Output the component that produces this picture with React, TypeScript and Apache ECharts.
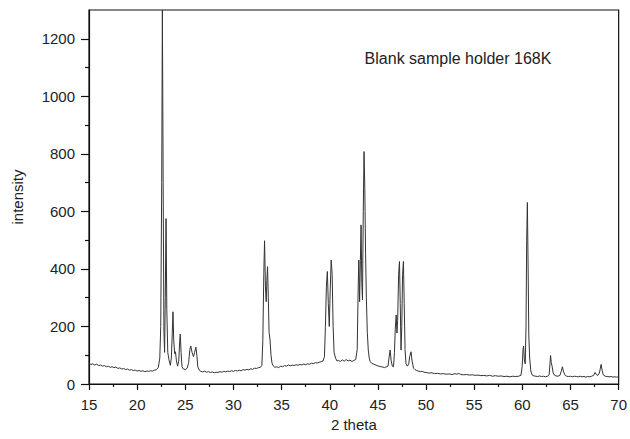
import React, { useEffect, useRef } from "react";
import * as echarts from "echarts";

const twoTheta: number[] = [
  15.0, 15.2, 15.4, 15.6, 15.8, 16.0, 16.2, 16.4, 16.6, 16.8, 17.0, 17.2, 17.4, 17.6, 17.8, 18.0, 18.2, 18.4, 18.6, 18.8,
  19.0, 19.2, 19.4, 19.6, 19.8, 20.0, 20.2, 20.4, 20.6, 20.8, 21.0, 21.2, 21.4, 21.6, 21.8, 22.0, 22.2, 22.35, 22.45, 22.55,
  22.62, 22.7, 22.78, 22.85, 22.92, 23.0, 23.08, 23.18, 23.3, 23.45, 23.55, 23.65, 23.72, 23.8, 23.9, 23.98, 24.08, 24.2, 24.32, 24.42,
  24.48, 24.56, 24.66, 24.8, 25.0, 25.2, 25.35, 25.47, 25.57, 25.7, 25.85, 25.97, 26.1, 26.2, 26.3, 26.45, 26.6,
  26.8, 27.0, 27.2, 27.4, 27.6, 27.8, 28.0, 28.2, 28.4, 28.6, 28.8, 29.0, 29.2, 29.4, 29.6, 29.8, 30.0, 30.2, 30.4, 30.6,
  30.8, 31.0, 31.2, 31.4, 31.6, 31.8, 32.0, 32.2, 32.4, 32.6, 32.8, 32.95, 33.05, 33.15, 33.23, 33.32, 33.4, 33.47, 33.54, 33.62,
  33.7, 33.8, 33.9, 34.0, 34.15, 34.3, 34.5, 34.7, 34.9, 35.1, 35.3, 35.5, 35.7, 35.9, 36.1, 36.3, 36.5, 36.7, 36.9, 37.1,
  37.3, 37.5, 37.7, 37.9, 38.1, 38.3, 38.5, 38.7, 38.9, 39.1, 39.3, 39.45, 39.55, 39.65, 39.75, 39.85, 39.95, 40.05, 40.15, 40.25,
  40.35, 40.45, 40.6, 40.75, 40.9, 41.1, 41.3, 41.5, 41.7, 41.9, 42.1, 42.3, 42.5, 42.7, 42.85, 42.95, 43.02, 43.1, 43.18, 43.25,
  43.33, 43.4, 43.48, 43.56, 43.64, 43.72, 43.8, 43.9, 44.0, 44.1, 44.2, 44.35, 44.5, 44.7, 44.9, 45.1, 45.3, 45.5, 45.7, 45.9,
  46.05, 46.15, 46.27, 46.38, 46.5, 46.62, 46.72, 46.8, 46.9, 46.98, 47.05, 47.15, 47.24, 47.32, 47.4, 47.48, 47.56, 47.65, 47.73, 47.82,
  47.92, 48.05, 48.2, 48.3, 48.44, 48.55, 48.7, 48.85, 49.0, 49.2, 49.4, 49.6, 49.8, 50.0, 50.3, 50.6, 50.9, 51.2, 51.5, 51.8,
  52.1, 52.4, 52.7, 53.0, 53.2, 53.4, 53.6, 53.9, 54.2, 54.5, 54.8, 55.1, 55.4, 55.7, 56.0, 56.3, 56.6, 56.9, 57.2, 57.5,
  57.8, 58.1, 58.4, 58.7, 59.0, 59.3, 59.6, 59.85, 59.98, 60.07, 60.13, 60.22, 60.3, 60.38, 60.45, 60.52, 60.6, 60.67, 60.76, 60.88,
  61.0, 61.2, 61.4, 61.6, 61.8, 62.0, 62.2, 62.4, 62.6, 62.78, 62.87, 62.93, 63.0, 63.1, 63.2, 63.35, 63.5, 63.7, 63.9, 64.05,
  64.16, 64.28, 64.45, 64.6, 64.8, 65.0, 65.2, 65.4, 65.6, 65.8, 66.0, 66.2, 66.4, 66.6, 66.8, 67.0, 67.2, 67.4, 67.55, 67.7,
  67.85, 68.0, 68.1, 68.18, 68.28, 68.4, 68.6, 68.8, 69.0, 69.2, 69.4, 69.6, 69.8, 70.0,
];

const intensity: number[] = [
  72, 68, 70, 66, 69, 64, 66, 62, 64, 60, 62, 58, 60, 57, 59, 54, 56, 52, 54, 50,
  52, 48, 50, 47, 48, 45, 47, 44, 46, 43, 45, 44, 46, 45, 48, 50, 58, 90, 200, 700,
  1300, 700, 180, 110, 300, 575, 260, 110, 85, 65, 90, 180, 251, 150, 105, 112, 80, 62, 80, 150,
  174, 110, 60, 52, 50, 55, 75, 120, 132, 110, 95, 110, 128, 100, 60, 48, 44,
  42, 45, 41, 43, 40, 42, 39, 41, 40, 43, 41, 44, 42, 45, 43, 46, 44, 47, 45, 48,
  46, 50, 48, 51, 49, 53, 51, 55, 54, 57, 58, 65, 150, 380, 498, 340, 286, 360, 408, 300,
  180, 153, 100, 73, 62, 58, 60, 57, 62, 60, 64, 62, 66, 63, 66, 64, 67, 65, 68, 66,
  69, 67, 70, 69, 72, 71, 74, 73, 76, 77, 80, 95, 200, 340, 391, 280, 200, 330, 431, 380,
  200, 110, 90, 80, 82, 78, 84, 79, 85, 80, 83, 78, 82, 85, 120, 330, 431, 286, 430, 553,
  350, 292, 600, 808, 680, 455, 300, 180, 118, 90, 78, 72, 70, 67, 64, 62, 60, 59, 57, 60,
  62, 90, 118, 80, 62, 60, 110, 190, 240, 177, 220, 380, 426, 280, 118, 200, 380, 426, 280, 120,
  70, 62, 70, 95, 112, 80, 55, 50, 47, 45, 43, 44, 41, 40, 38, 39, 36, 37, 35, 36,
  34, 35, 33, 36, 34, 37, 33, 32, 33, 31, 32, 30, 31, 29, 30, 28, 30, 27, 29, 27,
  28, 26, 27, 25, 27, 26, 27, 30, 60, 120, 132, 80, 70, 200, 500, 631, 400, 170, 90, 45,
  32, 28, 27, 26, 28, 26, 27, 25, 27, 32, 70, 99, 75, 60, 38, 30, 28, 27, 30, 45,
  60, 42, 30, 27, 26, 27, 25, 27, 26, 25, 27, 25, 26, 24, 26, 25, 27, 30, 40, 32,
  30, 38, 55, 68, 48, 32, 27, 26, 25, 26, 24, 25, 24, 24,
];

const xMajorTicks: number[] = [15, 20, 25, 30, 35, 40, 45, 50, 55, 60, 65, 70];
const xMinorTicks: number[] = [17.5, 22.5, 27.5, 32.5, 37.5, 42.5, 47.5, 52.5, 57.5, 62.5, 67.5];
const yMajorTicks: number[] = [0, 200, 400, 600, 800, 1000, 1200];
const yMinorTicks: number[] = [100, 300, 500, 700, 900, 1100];

const chartTitle = "Blank sample holder 168K";
const xName = "2 theta";
const yName = "intensity";

const FONT = '"Liberation Sans", Arial, Helvetica, sans-serif';

export default function App() {
  const ref = useRef<HTMLDivElement>(null);
  useEffect(() => {
    if (!ref.current) return;
    const chart = echarts.init(ref.current, undefined, { renderer: "svg" });
    const data = twoTheta.map((x, i) => [x, intensity[i]]);
    const common = { min: 0, max: 1300 };
    chart.setOption({
      animation: false,
      backgroundColor: "#fff",
      textStyle: { fontFamily: FONT },
      grid: {
        left: 89,
        right: 7,
        top: 10,
        bottom: 55,
        show: true,
        borderColor: "#111",
        borderWidth: 1.2,
        backgroundColor: "transparent",
      },
      title: {
        text: chartTitle,
        left: 453,
        top: 45,
        textAlign: "center",
        textStyle: { fontSize: 16, fontWeight: "normal", color: "#222", fontFamily: FONT },
      },
      xAxis: [
        {
          type: "value",
          min: 15,
          max: 70,
          interval: 5,
          name: xName,
          nameLocation: "middle",
          nameGap: 33,
          nameTextStyle: { fontSize: 15, color: "#222", fontFamily: FONT },
          axisLine: { show: true, lineStyle: { color: "#111", width: 1.2 } },
          axisTick: { show: true, length: 6, customValues: xMajorTicks, lineStyle: { color: "#111", width: 1.2 } },
          axisLabel: {
            margin: 13,
            fontSize: 15,
            color: "#222",
            fontFamily: FONT,
            customValues: xMajorTicks,
            formatter: (v: number) => String(v),
          },
          splitLine: { show: false },
        },
        {
          type: "value",
          min: 15,
          max: 70,
          position: "bottom",
          axisLine: { show: false },
          axisTick: { show: true, length: 3, customValues: xMinorTicks, lineStyle: { color: "#111", width: 1.2 } },
          axisLabel: { show: false },
          splitLine: { show: false },
        },
      ],
      yAxis: [
        {
          type: "value",
          ...common,
          interval: 100,
          name: yName,
          nameLocation: "middle",
          nameGap: 64,
          nameRotate: 90,
          nameTextStyle: { fontSize: 15, color: "#222", fontFamily: FONT },
          axisLine: { show: true, lineStyle: { color: "#111", width: 1.2 } },
          axisTick: { show: true, length: 8, customValues: yMajorTicks, lineStyle: { color: "#111", width: 1.2 } },
          axisLabel: {
            margin: 14,
            fontSize: 15,
            color: "#222",
            fontFamily: FONT,
            customValues: yMajorTicks,
            formatter: (v: number) => String(v),
          },
          splitLine: { show: false },
        },
        {
          type: "value",
          ...common,
          position: "left",
          axisLine: { show: false },
          axisTick: { show: true, length: 4, customValues: yMinorTicks, lineStyle: { color: "#111", width: 1.2 } },
          axisLabel: { show: false },
          splitLine: { show: false },
        },
      ],
      series: [
        {
          type: "line",
          data,
          xAxisIndex: 0,
          yAxisIndex: 0,
          showSymbol: false,
          symbol: "none",
          lineStyle: { color: "#333", width: 1 },
          clip: true,
        },
      ],
    });
    return () => chart.dispose();
  }, []);
  return (
    <div
      ref={ref}
      style={{ position: "absolute", left: 0, top: 0, width: 630, height: 439 }}
    />
  );
}
